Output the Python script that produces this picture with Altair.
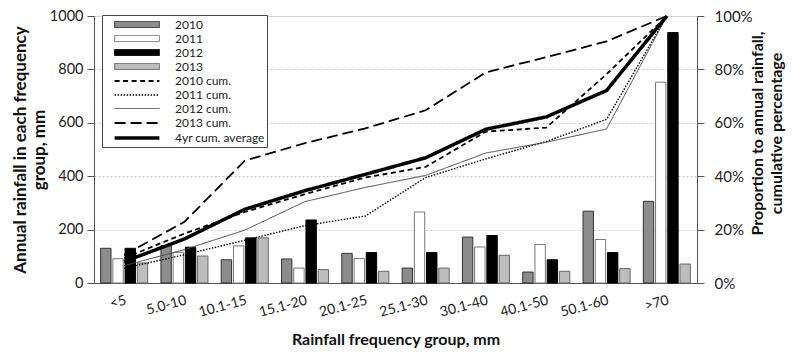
import altair as alt
import pandas as pd

categories = ["<5", "5.0-10", "10.1-15", "15.1-20", "20.1-25", "25.1-30",
              "30.1-40", "40.1-50", "50.1-60", ">70"]
years = ["2010", "2011", "2012", "2013"]
rain_2010 = [130, 140, 87, 90, 111, 56, 172, 41, 269, 306]
rain_2011 = [91, 115, 139, 56, 92, 266, 135, 144, 163, 752]
rain_2012 = [130, 134, 169, 236, 114, 114, 178, 87, 114, 938]
rain_2013 = [75, 101, 169, 50, 44, 56, 104, 44, 54, 71]

cum_names = ["2010 cum.", "2011 cum.", "2012 cum.", "2013 cum.", "4yr cum. average"]
cum_2010 = [9.3, 18.5, 26.6, 33.3, 39.5, 43.5, 56.7, 58.2, 78.2, 100]
cum_2011 = [5.5, 10.6, 16.0, 21.5, 25.1, 39.5, 46.5, 53.0, 61.3, 100]
cum_2012 = [6.5, 12.5, 19.8, 30.5, 35.8, 40.3, 48.7, 52.7, 57.7, 100]
cum_2013 = [10.5, 22.9, 45.8, 52.4, 57.9, 64.7, 78.9, 84.6, 90.5, 100]
cum_avg = [8.0, 16.5, 27.6, 34.6, 40.7, 46.9, 57.6, 62.2, 72.1, 100]

series = years + cum_names

bar_rows = []
for y, vals in zip(years, [rain_2010, rain_2011, rain_2012, rain_2013]):
    for c, v in zip(categories, vals):
        bar_rows.append({"group": c, "series": y, "rain": v})
bars_df = pd.DataFrame(bar_rows)

line_rows = []
for s, vals in zip(cum_names, [cum_2010, cum_2011, cum_2012, cum_2013, cum_avg]):
    for i, (c, v) in enumerate(zip(categories, vals)):
        line_rows.append({"group": c, "series": s, "pct": v, "idx": i})
lines_df = pd.DataFrame(line_rows)

legend_df = pd.DataFrame({"series": series})

FONT = "Lato"
RECT = "M-3.2,-0.43H3.2V0.43H-3.2Z"
LINE = "M-3.2,0H3.2"

fill_scale = alt.Scale(domain=series, range=["#8c8c8c", "#ffffff", "#000000", "#bdbdbd",
                                             "transparent", "transparent", "transparent",
                                             "transparent", "transparent"])
stroke_scale = alt.Scale(domain=series, range=["#333333", "#777777", "#000000", "#666666",
                                               "#000000", "#000000", "#444444", "#000000", "#000000"])
dash_scale = alt.Scale(domain=series, range=[[1, 0], [1, 0], [1, 0], [1, 0],
                                             [5, 3.5], [1.5, 1.5], [1, 0], [11, 5], [1, 0]])
width_scale = alt.Scale(type="ordinal", domain=series,
                        range=[1, 1, 1, 1, 1.8, 1.4, 1, 1.8, 3.5])
shape_scale = alt.Scale(domain=series, range=[RECT] * 4 + [LINE] * 5)

leg = alt.Legend(orient="none", legendX=8, legendY=-1, title=None, padding=2,
                 symbolSize=196, symbolOffset=24, labelOffset=29, rowPadding=0,
                 labelFont=FONT, labelFontSize=12, labelColor="#222222",
                 strokeColor="#444444", fillColor="#ffffff")

x_enc = alt.X("group:N", sort=categories,
              scale=alt.Scale(paddingInner=0.22, paddingOuter=0.11),
              axis=alt.Axis(title="Rainfall frequency group, mm", labelAngle=345,
                            labelAlign="right", labelBaseline="top", ticks=False,
                            labelPadding=10, labelFont=FONT, labelFontSize=14,
                            labelColor="#222222", domainColor="#555555",
                            titleFont=FONT, titleFontSize=16, titleFontWeight="bold",
                            titleColor="#111111", titlePadding=12))

legend_layer = alt.Chart(legend_df).transform_filter("false").mark_point(
    filled=True, opacity=1, size=196).encode(
    shape=alt.Shape("series:N", scale=shape_scale, legend=leg),
    fill=alt.Fill("series:N", scale=fill_scale, legend=leg),
    stroke=alt.Stroke("series:N", scale=stroke_scale, legend=leg),
    strokeDash=alt.StrokeDash("series:N", scale=dash_scale, legend=leg),
    strokeWidth=alt.StrokeWidth("series:O", scale=width_scale, legend=leg),
)

bars = alt.Chart(bars_df).mark_bar(strokeWidth=1).encode(
    x=x_enc,
    xOffset=alt.XOffset("series:N", sort=years,
                        scale=alt.Scale(paddingInner=0.15, paddingOuter=0)),
    y=alt.Y("rain:Q", scale=alt.Scale(domain=[0, 1000]),
            axis=alt.Axis(values=[0, 200, 400, 600, 800, 1000], format="d",
                          title=["Annual rainfall in each frequency", "group, mm"],
                          titleFont=FONT, titleFontSize=17, titleFontWeight="bold",
                          titleColor="#111111", titleLineHeight=19, titlePadding=1,
                          labelFont=FONT, labelFontSize=14.5, labelColor="#222222",
                          labelPadding=4, tickSize=7, tickColor="#555555",
                          domainColor="#555555", grid=True, gridDash=[2, 2],
                          gridColor="#c8c8c8")),
    fill=alt.Fill("series:N", scale=fill_scale, legend=leg),
    stroke=alt.Stroke("series:N", scale=stroke_scale, legend=leg),
)

lines = alt.Chart(lines_df).mark_line(strokeCap="butt").encode(
    x=alt.X("group:N", sort=categories),
    y=alt.Y("pct:Q", scale=alt.Scale(domain=[0, 100]),
            axis=alt.Axis(orient="right", values=[0, 20, 40, 60, 80, 100],
                          labelExpr="datum.value + '%'",
                          title=["Proportion to annual rainfall,", "cumulative percentage"],
                          titleAngle=270, titleBaseline="top", titleAlign="center",
                          titleX=52, titleY=117,
                          titleFont=FONT, titleFontSize=16, titleFontWeight="bold",
                          titleColor="#111111", titleLineHeight=19,
                          labelFont=FONT, labelFontSize=15, labelColor="#222222",
                          labelPadding=10, tickSize=7, tickColor="#555555",
                          domainColor="#555555", grid=False)),
    stroke=alt.Stroke("series:N", scale=stroke_scale, legend=leg),
    strokeDash=alt.StrokeDash("series:N", scale=dash_scale, legend=leg),
    strokeWidth=alt.StrokeWidth("series:O", scale=width_scale, legend=leg),
    order=alt.Order("idx:Q"),
)

chart = alt.layer(legend_layer, bars, lines).resolve_scale(y="independent").properties(
    width=603, height=267,
    autosize=alt.AutoSizeParams(type="none"),
    padding={"left": 86, "top": 8, "right": 92, "bottom": 65},
).configure_view(stroke="#666666", strokeWidth=1).configure(background="#ffffff")

chart.save("out.html", embed_options={"renderer": "svg", "actions": False})
